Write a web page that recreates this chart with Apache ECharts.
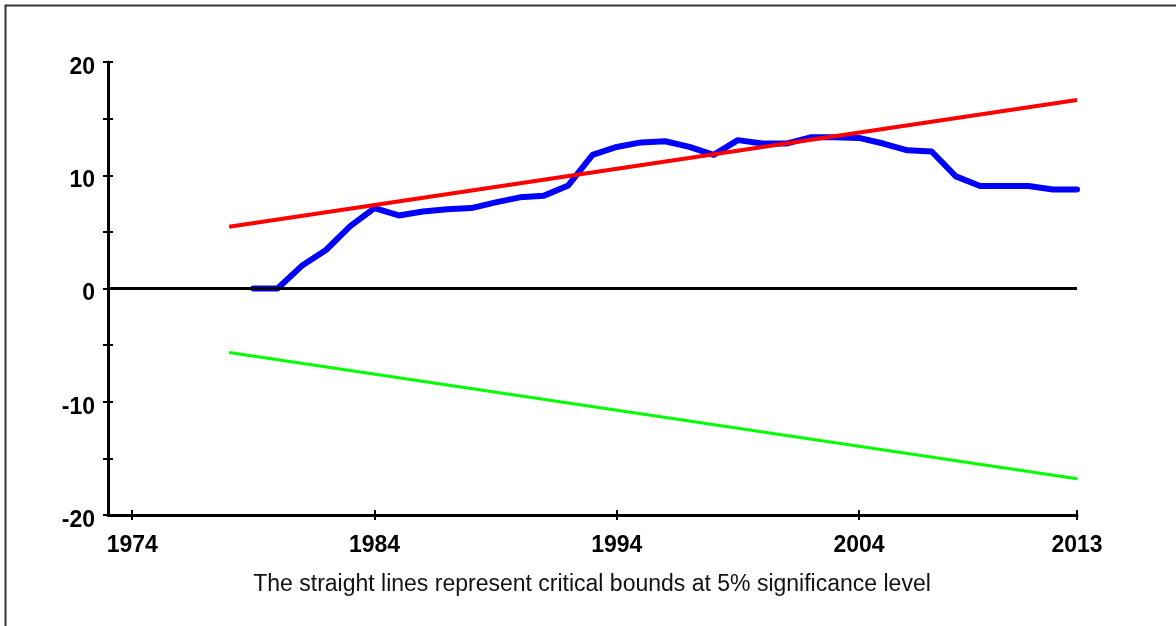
<!DOCTYPE html>
<html>
<head>
<meta charset="utf-8">
<script src="https://cdn.jsdelivr.net/npm/echarts@6/dist/echarts.min.js"></script>
<style>
html,body{margin:0;padding:0;background:#fff;}
#chart{width:1176px;height:626px;}
</style>
</head>
<body>
<div id="chart"></div>
<script>
// Years and CUSUM statistic
var years = [1979,1980,1981,1982,1983,1984,1985,1986,1987,1988,1989,1990,1991,1992,1993,1994,1995,1996,1997,1998,1999,2000,2001,2002,2003,2004,2005,2006,2007,2008,2009,2010,2011,2012,2013];
var cusum = [0,0,2.0,3.4,5.5,7.1,6.45,6.8,7.0,7.1,7.6,8.05,8.2,9.1,11.8,12.5,12.9,13.0,12.5,11.8,13.1,12.8,12.8,13.35,13.35,13.3,12.8,12.2,12.1,9.9,9.05,9.05,9.05,8.75,8.75];
// Critical bounds (straight lines), endpoints
var boundYears = [1978, 2013];
var upperBound = [5.45, 16.65];
var lowerBound = [-5.65, -16.8];
// Axis ticks / labels
var xTickYears = [1974, 1984, 1994, 2004, 2013];
var yLabelValues = [-20, -10, 0, 10, 20];
var caption = 'The straight lines represent critical bounds at 5% significance level';

function pairs(xs, ys){ return xs.map(function(x,i){ return [x, ys[i]]; }); }

var chart = echarts.init(document.getElementById('chart'));
var labelFont = {fontFamily:'Liberation Sans, Arial, sans-serif', fontWeight:'bold', fontSize:23, color:'#000'};
var axisLineStyle = {color:'#000', width:3};
var tickStyle = {color:'#000', width:2};
var gridBox = {left:108, right:99, top:62, bottom:111};
chart.setOption({
  animation:false,
  backgroundColor:'#fff',
  grid:[Object.assign({}, gridBox), Object.assign({}, gridBox)],
  xAxis:[{
    gridIndex:0, type:'value', min:1973, max:2013, position:'bottom',
    axisLine:{show:true, onZero:false, lineStyle:axisLineStyle},
    axisTick:{show:true, customValues:xTickYears, length:5, lineStyle:tickStyle},
    axisLabel:Object.assign({customValues:xTickYears, margin:19, formatter:function(v){return String(v);}}, labelFont),
    splitLine:{show:false}
  },{
    gridIndex:1, type:'value', min:1973, max:2013, position:'bottom',
    axisLine:{show:false, onZero:false},
    axisTick:{show:true, inside:true, customValues:xTickYears, length:5, lineStyle:tickStyle},
    axisLabel:{show:false},
    splitLine:{show:false}
  }],
  yAxis:[{
    gridIndex:0, type:'value', min:-20, max:20, interval:5, position:'left',
    axisLine:{show:true, onZero:false, lineStyle:axisLineStyle},
    axisTick:{show:true, length:5, lineStyle:tickStyle},
    axisLabel:Object.assign({customValues:yLabelValues, margin:13, verticalAlign:'top', lineHeight:11}, labelFont),
    splitLine:{show:false}
  },{
    gridIndex:1, type:'value', min:-20, max:20, interval:5, position:'left',
    axisLine:{show:false, onZero:false},
    axisTick:{show:true, inside:true, length:5, lineStyle:tickStyle},
    axisLabel:{show:false},
    splitLine:{show:false}
  }],
  series:[
    {
      name:'Upper bound', type:'line', xAxisIndex:0, yAxisIndex:0,
      data:pairs(boundYears, upperBound), showSymbol:false, symbol:'none',
      lineStyle:{color:'#ff0000', width:4}, z:3
    },
    {
      name:'Lower bound', type:'line', xAxisIndex:0, yAxisIndex:0,
      data:pairs(boundYears, lowerBound), showSymbol:false, symbol:'none',
      lineStyle:{color:'#00ff00', width:3}, z:3
    },
    {
      name:'CUSUM', type:'line', xAxisIndex:0, yAxisIndex:0,
      data:pairs(years, cusum), showSymbol:false, symbol:'none',
      lineStyle:{color:'#0000ff', width:6, join:'round', cap:'round'}, z:2,
      markLine:{
        silent:true, symbol:'none', label:{show:false},
        lineStyle:{color:'#000', width:3, type:'solid'},
        data:[{yAxis:0}]
      }
    },
    {
      name:'tickHolder', type:'line', xAxisIndex:1, yAxisIndex:1,
      data:[], showSymbol:false, silent:true
    }
  ],
  graphic:[
    {type:'rect', shape:{x:5.5, y:5.5, width:1300, height:800}, style:{fill:null, stroke:'#333', lineWidth:2}, silent:true},
    {type:'text', x:592, y:585, style:{text:caption, font:'23px "Liberation Sans", Arial, sans-serif', fill:'#111', textAlign:'center', textVerticalAlign:'middle'}}
  ]
});
</script>
</body>
</html>
